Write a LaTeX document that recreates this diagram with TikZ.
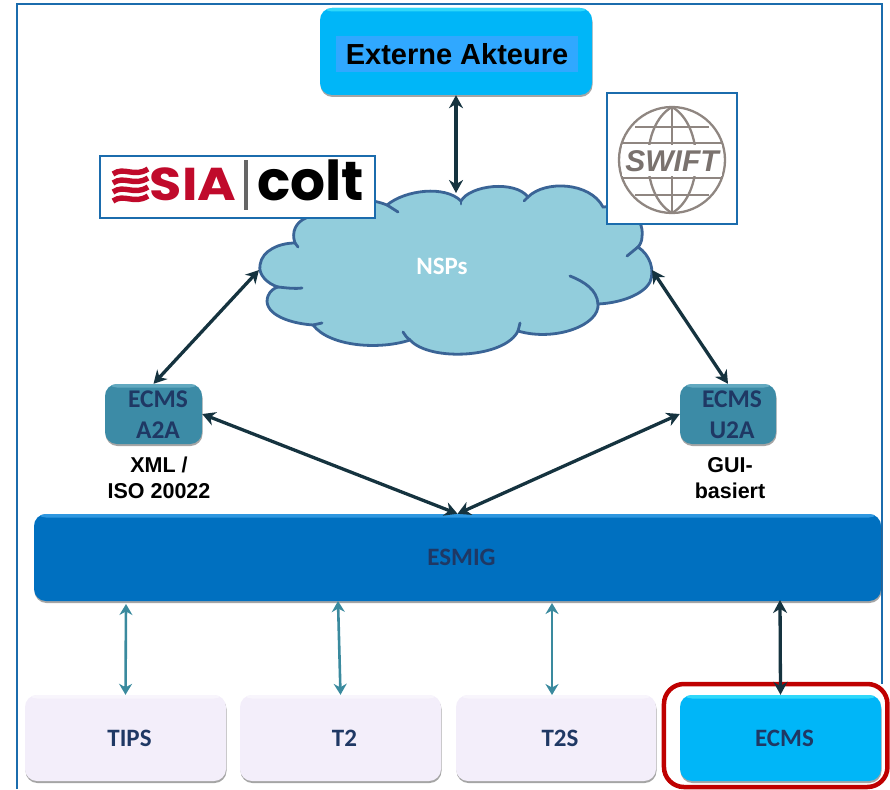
\documentclass[tikz,border=0pt]{standalone}
\usepackage{fontspec}
\setmainfont{Liberation Sans}
\newfontfamily\calib{Carlito}
\newfontfamily\popp{Poppins}
\usetikzlibrary{arrows.meta,shadows}
\definecolor{frameblue}{HTML}{1B6CAD}
\definecolor{skyfill}{HTML}{00B6F8}
\definecolor{skytop}{HTML}{2FD8FA}
\definecolor{skyband}{HTML}{30A8FF}
\definecolor{tealfill}{HTML}{3C8BA6}
\definecolor{tealtop}{HTML}{62A9C0}
\definecolor{esmigfill}{HTML}{0070C0}
\definecolor{esmigtop}{HTML}{2E97E0}
\definecolor{lilac}{HTML}{F3EEFA}
\definecolor{lilactop}{HTML}{F8F5FC}
\definecolor{navytext}{HTML}{1F3864}
\definecolor{cloudfill}{HTML}{92CDDC}
\definecolor{cloudline}{HTML}{3A6496}
\definecolor{darkarrow}{HTML}{15333F}
\definecolor{tealarrow}{HTML}{3A8A9E}
\definecolor{siared}{HTML}{C00A2B}
\definecolor{swiftgray}{HTML}{8F8681}
\tikzset{
  x=1pt,y=-1pt,
  glossy/.style={path picture={\fill[#1] (path picture bounding box.north west) rectangle ([yshift=-3.5pt]path picture bounding box.north east);}},
  panel/.style n args={4}{draw=none,fill=#3,glossy=#4,rounded corners=12pt,minimum width=#1,minimum height=#2,inner sep=0pt,
    drop shadow={shadow xshift=0.5pt,shadow yshift=-2pt,opacity=.5,fill=black!70},
    font=\calib\bfseries\fontsize{25}{30}\selectfont,text=navytext},
  darr/.style={draw=darkarrow,line width=3.3pt,{Stealth[length=13pt,width=14pt]}-{Stealth[length=13pt,width=14pt]}},
  tarr/.style={draw=tealarrow,line width=2.6pt,{Stealth[length=11pt,width=13pt]}-{Stealth[length=11pt,width=13pt]}},
  logobox/.style={draw=frameblue,line width=1.5pt,fill=white,inner sep=0pt},
  caption/.style={font=\bfseries\fontsize{21.5}{26}\selectfont,align=center,text=black},
  cloudedge/.style={draw=cloudline,line width=2.8pt,line cap=round},
}
\begin{document}
\begin{tikzpicture}
\useasboundingbox (0,0) rectangle (890,789);
% frame
\draw[frameblue,line width=1.6pt] (17,789) -- (17,4) -- (882,4) -- (882,684);
% red highlight
\node[draw=red!75!black,line width=4.5pt,fill=white,rounded corners=20pt,minimum width=223.5pt,minimum height=103pt,inner sep=0pt] (highlight) at (775.7,735.5) {};
% cloud
\path[cloudedge,fill=cloudfill]
  (260,265) .. controls (262,250) and (280,243) .. (295,243)
  .. controls (291,232) and (296,222) .. (306,218)
  .. controls (322,195) and (365,196) .. (387,205)
  .. controls (405,190) and (445,185) .. (461,201)
  .. controls (470,185) and (515,180) .. (528,197)
  .. controls (545,180) and (590,182) .. (603,207)
  .. controls (622,205) and (645,215) .. (642,237)
  .. controls (642,241) and (640,245) .. (638,247)
  .. controls (650,255) and (655,270) .. (650,282)
  .. controls (643,295) and (620,303) .. (598,304)
  .. controls (600,325) and (555,342) .. (518,331)
  .. controls (505,358) and (430,362) .. (410,340)
  .. controls (380,350) and (330,347) .. (313,325)
  .. controls (285,323) and (262,312) .. (268,296)
  .. controls (270,291) and (274,288) .. (278,287)
  .. controls (268,284) and (258,275) .. (260,265) -- cycle;
\draw[cloudedge] (295,243) -- (298,247);
\draw[cloudedge] (278,287) .. controls (288,288) and (294,289) .. (302,288);
\draw[cloudedge] (313,325) -- (322,323);
\draw[cloudedge] (410,340) .. controls (406,337) and (405,335) .. (403,332);
\draw[cloudedge] (518,331) -- (520,323);
\draw[cloudedge] (598,304) .. controls (597,290) and (585,282) .. (570,276);
\draw[cloudedge] (638,247) -- (627,256);
\draw[cloudedge] (461,201) -- (461,204);
\draw[cloudedge] (528,197) -- (524,201);
\draw[cloudedge] (387,205) -- (398,212);
\node[font=\calib\bfseries\fontsize{25}{30}\selectfont,text=white] (nsps) at (442,266) {NSPs};
\coordinate (cloudN) at (456,193);
\coordinate (cloudW) at (259,270);
\coordinate (cloudE) at (652,270);
% logos
\node[logobox,minimum width=275pt,minimum height=62pt] (sia) at (237.5,187) {};
\foreach \yy in {171,180,189,198}{
  \draw[siared,line width=5.4pt] (113,\yy+3) .. controls (124,\yy-5) and (134,\yy+7) .. (148,\yy-2);
}
\node[font=\popp\bfseries\fontsize{46}{46}\selectfont,text=siared,anchor=center,inner sep=0pt] (siatext) at (193,184) {\scalebox{1.14}[1]{SIA}};
\node[fill=black!60,minimum width=3.2pt,minimum height=50pt,inner sep=0pt] (siabar) at (246,185) {};
\node[font=\popp\bfseries\fontsize{55}{55}\selectfont,text=black,anchor=center,inner sep=0pt] (colt) at (310.5,180) {colt};
\node[logobox,minimum width=130pt,minimum height=131pt] (swift) at (672,158.5) {};
\begin{scope}[swiftgray,line width=2.3pt]
  \draw (672,160) circle[radius=53];
  \draw (672,107) -- (672,213);
  \draw (672,107) .. controls (640,125) and (640,195) .. (672,213);
  \draw (672,107) .. controls (704,125) and (704,195) .. (672,213);
  \draw (635,127) -- (709,127);
  \draw (635,195) -- (709,195);
  \draw (621,143) -- (723,143);
  \draw (621,178) -- (723,178);
\end{scope}
\fill[white] (622,145) rectangle (722,176);
\node[font=\bfseries\itshape\fontsize{30}{30}\selectfont,text=swiftgray!85!black,inner sep=0pt] (swifttext) at (672,161) {SWIFT};
% boxes
\node[panel={272pt}{87pt}{skyfill}{skytop}] (extern) at (456,51.5) {};
\node[fill=skyband,minimum width=242pt,minimum height=36pt,inner sep=0pt,
      font=\bfseries\fontsize{29}{34}\selectfont,text=black] (externtext) at (457,54) {Externe Akteure};
\node[panel={97pt}{60pt}{tealfill}{tealtop}] (a2a) at (153.5,414) {};
\node[panel={96pt}{60pt}{tealfill}{tealtop}] (u2a) at (728,414) {};
\node[font=\calib\bfseries\fontsize{25.5}{31}\selectfont,text=navytext,align=center] (a2atext) at (158,415) {ECMS\\A2A};
\node[font=\calib\bfseries\fontsize{25.5}{31}\selectfont,text=navytext,align=center] (u2atext) at (732,415) {ECMS\\U2A};
\node[caption] (xml) at (159,478) {XML /\\ISO 20022};
\node[caption] (gui) at (730,478) {GUI-\\basiert};
\node[panel={847pt}{87pt}{esmigfill}{esmigtop}] (esmig) at (457.5,557.5) {\hspace*{8pt}ESMIG};
\node[panel={201pt}{86pt}{lilac}{lilactop}] (tips) at (125.5,738) {\hspace*{8pt}TIPS};
\node[panel={201pt}{86pt}{lilac}{lilactop}] (t2) at (340.5,738) {\hspace*{8pt}T2};
\node[panel={200pt}{86pt}{lilac}{lilactop}] (t2s) at (556,738) {\hspace*{8pt}T2S};
\node[panel={201pt}{86pt}{skyfill}{skytop}] (ecms) at (780.5,738) {\hspace*{8pt}ECMS};
% connectors
\coordinate (esT) at (126,604);
\coordinate (esTwo) at (338,601);
\coordinate (esTs) at (552,603);
\coordinate (esE) at (780,600);
\coordinate (tsTop) at (552,695);
\draw[darr] (extern.south) -- (cloudN);
\draw[darr] (a2a.north) -- (cloudW);
\draw[darr] (u2a.north) -- (cloudE);
\draw[darr] (a2a.east) -- (esmig.north);
\draw[darr] (u2a.west) -- (esmig.north);
\draw[tarr] (tips.north) -- (esT);
\draw[tarr] (t2.north) -- (esTwo);
\draw[tarr] (tsTop) -- (esTs);
\draw[darr] (ecms.north) -- (esE);
\end{tikzpicture}
\end{document}
